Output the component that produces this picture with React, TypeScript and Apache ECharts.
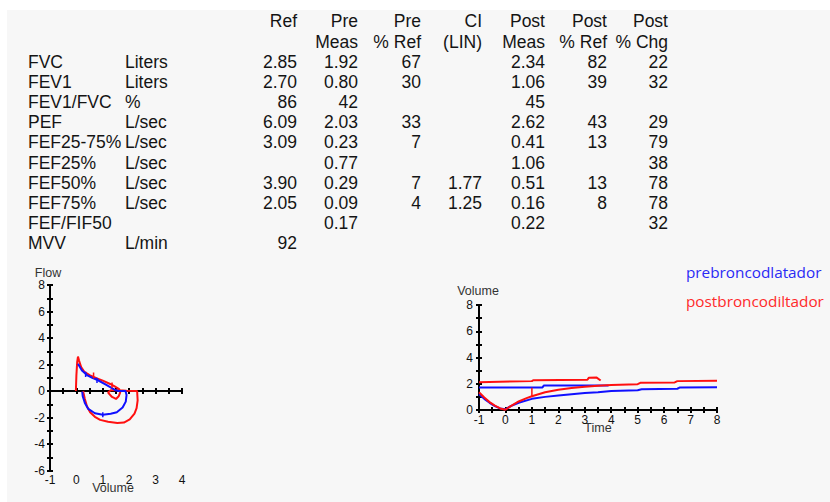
import React, { useEffect, useRef } from "react";
import * as echarts from "echarts";

const FONT = "'Liberation Sans', Arial, Helvetica, sans-serif";

// ---- table data ----
const header1 = ["Ref", "Pre", "Pre", "CI", "Post", "Post", "Post"];
const header2 = ["", "Meas", "% Ref", "(LIN)", "Meas", "% Ref", "% Chg"];
const rowNames = ["FVC", "FEV1", "FEV1/FVC", "PEF", "FEF25-75%", "FEF25%", "FEF50%", "FEF75%", "FEF/FIF50", "MVV"];
const rowUnits = ["Liters", "Liters", "%", "L/sec", "L/sec", "L/sec", "L/sec", "L/sec", "", "L/min"];
const refVals = ["2.85", "2.70", "86", "6.09", "3.09", "", "3.90", "2.05", "", "92"];
const preMeas = ["1.92", "0.80", "42", "2.03", "0.23", "0.77", "0.29", "0.09", "0.17", ""];
const preRef = ["67", "30", "", "33", "7", "", "7", "4", "", ""];
const ciLin = ["", "", "", "", "", "", "1.77", "1.25", "", ""];
const postMeas = ["2.34", "1.06", "45", "2.62", "0.41", "1.06", "0.51", "0.16", "0.22", ""];
const postRef = ["82", "39", "", "43", "13", "", "13", "8", "", ""];
const postChg = ["22", "32", "", "29", "79", "38", "78", "78", "32", ""];

// ---- legend ----
const legendNames = ["prebroncodlatador", "postbroncodiltador"];

// ---- flow-volume loops [volume, flow] ----
const fvPost = [
  [-0.02, 0.0], [0.0, 1.2], [0.03, 2.2], [0.06, 2.6], [0.1, 2.3], [0.18, 1.8], [0.3, 1.45], [0.5, 1.2],
  [0.78, 0.95], [1.0, 0.78], [1.28, 0.53], [1.45, 0.35], [1.62, 0.15], [1.66, -0.1], [1.6, -0.4],
  [1.5, -0.6], [1.35, -0.45], [1.2, -0.12], [1.3, 0.05], [1.6, 0.05], [1.9, 0.02], [2.3, 0.0],
  [2.32, -0.7], [2.28, -1.3], [2.2, -1.7], [2.02, -2.15], [1.8, -2.38], [1.55, -2.42], [1.2, -2.32],
  [0.9, -2.18], [0.7, -1.95], [0.52, -1.6], [0.4, -1.15], [0.32, -0.6], [0.27, -0.15], [0.26, 0.0],
];
const fvPre = [
  [0.06, 2.05], [0.12, 1.85], [0.21, 1.55], [0.4, 1.2], [0.6, 1.0], [0.8, 0.83], [1.15, 0.45],
  [1.46, 0.08], [1.6, 0.0], [1.86, 0.0], [1.9, -0.3], [1.87, -0.8], [1.75, -1.25], [1.53, -1.6],
  [1.3, -1.72], [1.0, -1.8], [0.7, -1.68], [0.45, -1.35], [0.32, -0.9], [0.24, -0.4], [0.22, -0.05],
];
const fvPreMarks = [
  [[0.35, 1.05], [0.35, 1.45]],
  [[0.78, 0.6], [0.78, 1.0]],
  [[1.0, -1.98], [1.0, -1.6]],
];
const fvPostMarks = [
  [[0.65, 0.95], [0.65, 1.4]],
  [[1.35, 0.25], [1.35, 0.65]],
];

// ---- volume-time [time, volume] ----
const vtPostFlat = [[-1, 2.12], [1.0, 2.2], [1.05, 2.27], [3.1, 2.3], [3.15, 2.45], [3.45, 2.47], [3.6, 2.25]];
const vtPreFlat = [[-1, 1.72], [1.4, 1.72], [1.45, 1.86], [3.9, 1.86]];
const vtPost = [
  [-1, 1.35], [-0.8, 0.95], [-0.6, 0.6], [-0.4, 0.33], [-0.2, 0.12], [0, 0.02], [0.2, 0.3], [0.5, 0.65],
  [0.8, 0.9], [1, 1.05], [1.5, 1.35], [2, 1.55], [2.5, 1.68], [3, 1.78], [3.5, 1.85], [4, 1.9],
  [5, 1.97], [5.1, 2.07], [6.4, 2.1], [6.5, 2.2], [8, 2.22],
];
const vtPre = [
  [-1, 1.2], [-0.8, 0.85], [-0.6, 0.55], [-0.4, 0.3], [-0.2, 0.12], [0, 0.05], [0.2, 0.3], [0.5, 0.55],
  [1, 0.85], [1.5, 1.0], [2, 1.1], [2.5, 1.2], [3, 1.3], [3.5, 1.36], [4, 1.45], [5, 1.5], [5.15, 1.58],
  [6.5, 1.62], [6.6, 1.72], [8, 1.74],
];
const vtPostMarks = [[[1, 1.0], [1, 1.7]]];

const BLUE = "#1010ff";
const RED = "#ff1010";
const AXIS = "#000";
const LABEL = "#111";

function buildOption() {
  const graphics: any[] = [];
  graphics.push({
    type: "rect", z: -100, silent: true,
    shape: { x: 7, y: 10, width: 823, height: 492 },
    style: { fill: "#f7f7f7" },
  });
  const txt = (s: string, x: number, y: number, align: string, size = 17.5, color = "#141414", family = FONT) => {
    if (!s) return;
    graphics.push({
      type: "text", x, y, silent: true,
      style: {
        text: s, fill: color, font: `${size}px ${family}`,
        align, verticalAlign: "middle", textAlign: align, textVerticalAlign: "middle",
      },
    });
  };
  const colX = [297, 358, 421, 482, 545, 607, 668];
  header1.forEach((h, i) => txt(h, colX[i], 21, "right"));
  header2.forEach((h, i) => txt(h, colX[i], 42, "right"));
  const cols = [refVals, preMeas, preRef, ciLin, postMeas, postRef, postChg];
  rowNames.forEach((n, r) => {
    const y = 62 + r * 20.1;
    txt(n, 28, y, "left");
    txt(rowUnits[r], 125, y, "left");
    cols.forEach((c, ci) => txt(c[r], colX[ci], y, "right"));
  });
  // legend
  txt(legendNames[0], 686, 272, "left", 15.3, "#2a2af5", "'Open Sans', sans-serif");
  txt(legendNames[1], 686, 301, "left", 15.3, "#ff2a2a", "'Open Sans', sans-serif");
  // axis names
  txt("Flow", 48, 273, "center", 12.5, "#333");
  txt("Volume", 113, 488, "center", 12.5, "#333");
  txt("Volume", 478, 291, "center", 12.5, "#333");
  txt("Time", 598, 428, "center", 12.5, "#333");

  const lineAxis = { show: true, onZero: false, lineStyle: { color: AXIS, width: 2 } };
  const tick = (inside: boolean) => ({ show: true, inside, length: 3, lineStyle: { color: AXIS, width: 2 } });
  const minor = (inside: boolean) => ({ show: true, splitNumber: 2, length: 3, lineStyle: { color: AXIS, width: 2 } });
  const lbl = (margin: number) => ({ show: true, margin, color: LABEL, fontSize: 12, fontFamily: FONT });

  const xAxis: any[] = [
    // grid 0: labels at bottom
    { gridIndex: 0, type: "value", min: -1, max: 4, interval: 1, position: "bottom",
      axisLine: { show: false, onZero: false }, axisTick: { show: false }, splitLine: { show: false }, axisLabel: lbl(3) },
    // grid 0: line on zero, outward ticks
    { gridIndex: 0, type: "value", min: -1, max: 4, interval: 1, position: "bottom",
      axisLine: { show: true, onZero: true, onZeroAxisIndex: 0, lineStyle: { color: AXIS, width: 2 } },
      axisTick: tick(false), minorTick: minor(false), splitLine: { show: false }, axisLabel: { show: false } },
    // grid 0: line on zero, inward ticks
    { gridIndex: 0, type: "value", min: -1, max: 4, interval: 1, position: "bottom",
      axisLine: { show: true, onZero: true, onZeroAxisIndex: 0, lineStyle: { color: AXIS, width: 2 } },
      axisTick: tick(true), minorTick: minor(true), splitLine: { show: false }, axisLabel: { show: false } },
    // grid 1
    { gridIndex: 1, type: "value", min: -1, max: 8, interval: 1, position: "bottom",
      axisLine: lineAxis, axisTick: tick(false), minorTick: minor(false), splitLine: { show: false }, axisLabel: lbl(4) },
    { gridIndex: 1, type: "value", min: -1, max: 8, interval: 1, position: "bottom",
      axisLine: lineAxis, axisTick: tick(true), minorTick: minor(true), splitLine: { show: false }, axisLabel: { show: false } },
  ];
  const yAxis: any[] = [
    { gridIndex: 0, type: "value", min: -6, max: 8, interval: 2, position: "left",
      axisLine: lineAxis, axisTick: tick(false), minorTick: minor(false), splitLine: { show: false }, axisLabel: lbl(5) },
    { gridIndex: 0, type: "value", min: -6, max: 8, interval: 2, position: "left",
      axisLine: lineAxis, axisTick: tick(true), minorTick: minor(true), splitLine: { show: false }, axisLabel: { show: false } },
    { gridIndex: 1, type: "value", min: 0, max: 8, interval: 2, position: "left",
      axisLine: lineAxis, axisTick: tick(false), minorTick: minor(false), splitLine: { show: false }, axisLabel: lbl(6) },
    { gridIndex: 1, type: "value", min: 0, max: 8, interval: 2, position: "left",
      axisLine: lineAxis, axisTick: tick(true), minorTick: minor(true), splitLine: { show: false }, axisLabel: { show: false } },
  ];

  const line = (data: any[], color: string, xi: number, yi: number, w = 2) => ({
    type: "line", data, xAxisIndex: xi, yAxisIndex: yi, showSymbol: false, symbol: "none",
    lineStyle: { color, width: w }, itemStyle: { color }, silent: true, z: 3,
  });

  const series: any[] = [
    line(fvPost, RED, 0, 0),
    line(fvPre, BLUE, 0, 0),
    ...fvPostMarks.map((m) => line(m, RED, 0, 0, 1.5)),
    ...fvPreMarks.map((m) => line(m, BLUE, 0, 0, 1.5)),
    line(vtPostFlat, RED, 3, 2),
    line(vtPreFlat, BLUE, 3, 2),
    line(vtPre, BLUE, 3, 2),
    line(vtPost, RED, 3, 2),
    ...vtPostMarks.map((m) => line(m, RED, 3, 2, 1.5)),
  ];

  return {
    animation: false,
    backgroundColor: "#ffffff",
    grid: [
      { left: 50, top: 285, width: 132, height: 185.5, containLabel: false, outerBoundsMode: "none" },
      { left: 479, top: 305, width: 238, height: 105, containLabel: false, outerBoundsMode: "none" },
    ],
    xAxis, yAxis, series,
    graphic: { elements: graphics },
  };
}

export default function App() {
  const ref = useRef<HTMLDivElement>(null);
  useEffect(() => {
    if (!ref.current) return;
    const chart = echarts.init(ref.current, null, { renderer: "svg" });
    chart.setOption(buildOption() as any);
    return () => chart.dispose();
  }, []);
  return (
    <div
      ref={ref}
      style={{ position: "fixed", left: 0, top: 0, width: 830, height: 502, background: "#fff" }}
    />
  );
}
